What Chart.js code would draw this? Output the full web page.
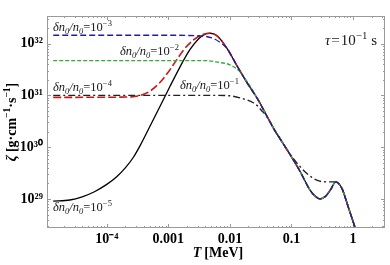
<!DOCTYPE html>
<html>
<head>
<meta charset="utf-8">
<script src="https://cdn.jsdelivr.net/npm/chart.js@4.4.1/dist/chart.umd.min.js"></script>
<style>
  html, body { margin: 0; padding: 0; background: #fff; }
  #wrap { width: 390px; height: 265px; }
</style>
</head>
<body>
<div id="wrap"><canvas id="chart" width="390" height="265"></canvas></div>
<script>
// T [MeV] and zeta [g cm^-1 s^-1] (tau = 0.1 s)
// shared high-temperature part of the curves
const tailT = [6.17e-3, 8.91e-3, 0.0129, 0.0186, 0.0288, 0.0398, 0.0537, 0.0646, 0.0955, 0.138, 0.200, 0.240, 0.288, 0.355, 0.427, 0.525, 0.661, 0.832, 1.07];
const tailZ = [1.41e32, 8.13e31, 3.80e31, 1.82e31, 8.13e30, 3.98e30, 2.09e30, 1.48e30, 7.08e29, 3.39e29, 1.48e29, 1.15e29, 1.0e29, 1.12e29, 1.48e29, 2.14e29, 1.58e29, 7.08e28, 2.88e28];

// dn0/n0 = 1e-5 (solid)
const solidT = [1.35e-5, 2.51e-5, 3.98e-5, 6.31e-5, 1e-4, 1.45e-4, 2.0e-4, 2.69e-4, 3.55e-4, 5.01e-4, 7.41e-4, 1.07e-3, 1.55e-3, 2.24e-3, 3.31e-3, 4.17e-3, 4.79e-3];
const solidZ = [9.12e28, 9.55e28, 1.10e29, 1.38e29, 1.91e29, 2.69e29, 3.98e29, 6.31e29, 1.12e30, 2.51e30, 6.31e30, 1.51e31, 3.55e31, 7.59e31, 1.32e32, 1.55e32, 1.58e32];

// dn0/n0 = 1e-4 (red)
const redT = [1.35e-5, 1e-4, 2.51e-4, 3.55e-4, 5.01e-4, 7.08e-4, 1e-3, 1.32e-3, 1.78e-3, 2.51e-3, 3.55e-3, 4.79e-3];
const redZ = [9.12e30, 9.2e30, 9.33e30, 1.0e31, 1.20e31, 1.70e31, 2.82e31, 4.57e31, 7.59e31, 1.15e32, 1.48e32, 1.58e32];

// dn0/n0 = 1e-3 (blue)
const blueT = [1.35e-5, 1e-3, 3.16e-3, 3.98e-3, 5.37e-3, 6.92e-3];
const blueZ = [1.445e32, 1.445e32, 1.41e32, 1.38e32, 1.26e32, 1.05e32];

// dn0/n0 = 1e-2 (green)
const greenT = [1.35e-5, 3.98e-3, 6.31e-3, 0.01, 0.0126, 0.0148, 0.0174, 0.0209];
const greenZ = [4.68e31, 4.68e31, 4.37e31, 3.89e31, 3.31e31, 2.82e31, 2.14e31, 1.55e31];

// dn0/n0 = 1e-1 (dash-dot)
const dotT = [1.35e-5, 1e-3, 5.0e-3, 0.01, 0.0158, 0.024, 0.0282, 0.0331, 0.038, 0.0537, 0.0646, 0.087, 0.123, 0.178, 0.257, 0.372, 0.525, 0.661, 0.832, 1.07];
const dotZ = [1.0e31, 1.0e31, 1.0e31, 9.8e30, 8.7e30, 7.2e30, 6.2e30, 5.0e30, 4.2e30, 2.09e30, 1.48e30, 8.5e29, 4.9e29, 3.1e29, 2.3e29, 2.14e29, 2.14e29, 1.58e29, 7.08e28, 2.88e28];

const xTicks = [1e-4, 1e-3, 1e-2, 1e-1, 1];
const xTickLabels = ['10\u207B\u2074', '0.001', '0.01', '0.1', '1'];
const yTicks = [1e29, 1e30, 1e31, 1e32];
const yTickLabels = ['10\u00B2\u2079', '10\u00B3\u2070', '10\u00B3\u00B9', '10\u00B3\u00B2'];

function pts(t, z) {
    return t.map((v, i) => ({ x: v, y: z[i] }));
}
function withTail(t, z, from) {
    return pts(t.concat(tailT.filter(v => v >= from)), z.concat(tailZ.filter((v, i) => tailT[i] >= from)));
}

const SERIF = '"Liberation Serif", "Times New Roman", serif';

// text drawn in runs so sub/superscripts and italics come out right
function drawRich(ctx, x, y, runs, size, weight) {
    let cx = x;
    runs.forEach(r => {
        const small = r.sub || r.sup;
        const s = small ? size * (r.scale || 0.68) : size;
        ctx.font = (r.it ? 'italic ' : '') + (weight || 'normal') + ' ' + s + 'px ' + SERIF;
        const dy = r.sup ? -size * 0.42 : (r.sub ? size * 0.22 : 0);
        ctx.fillText(r.t, cx, y + dy);
        cx += ctx.measureText(r.t).width + (r.gap || 0);
    });
    return cx - x;
}
function measureRich(ctx, runs, size, weight) {
    let w = 0;
    runs.forEach(r => {
        const s = (r.sub || r.sup) ? size * (r.scale || 0.68) : size;
        ctx.font = (r.it ? 'italic ' : '') + (weight || 'normal') + ' ' + s + 'px ' + SERIF;
        w += ctx.measureText(r.t).width + (r.gap || 0);
    });
    return w;
}
function ratio(exp) {
    return [{ t: '\u03B4n', it: true }, { t: '0', it: true, sub: true }, { t: '/n', it: true }, { t: '0', it: true, sub: true },
            { t: '=10' }, { t: '\u2212' + exp, sup: true }];
}

const notes = [
    { x: 53, y: 31, size: 12.5, runs: ratio(3) },
    { x: 120, y: 55, size: 12.5, runs: ratio(2) },
    { x: 53, y: 91, size: 12.5, runs: ratio(4) },
    { x: 180, y: 89, size: 12.5, runs: ratio(1) },
    { x: 53, y: 211, size: 12.5, runs: ratio(5) },
    { x: 325, y: 45, size: 15, runs: [{ t: '\u03C4', it: true, gap: 1 }, { t: '=', gap: 1 }, { t: '10' }, { t: '\u22121', sup: true, scale: 0.72, gap: 4 }, { t: 's' }] }
];

const framePlugin = {
    id: 'frame',
    beforeDatasetsDraw(chart) {
        const { ctx, chartArea: a, scales: { x, y } } = chart;
        ctx.save();
        ctx.strokeStyle = '#9a9a9a';
        ctx.lineWidth = 1;
        ctx.strokeRect(a.left + 0.5, a.top + 0.5, a.right - a.left - 1, a.bottom - a.top - 1);
        ctx.beginPath();
        for (let d = -6; d <= 1; d++) {
            for (let k = 1; k <= 9; k++) {
                const v = k * Math.pow(10, d);
                if (v >= x.min && v <= x.max) {
                    const px = Math.round(x.getPixelForValue(v)) + 0.5;
                    const len = k === 1 ? 4 : 2;
                    ctx.moveTo(px, a.bottom); ctx.lineTo(px, a.bottom - len);
                    ctx.moveTo(px, a.top); ctx.lineTo(px, a.top + len);
                }
            }
        }
        for (let d = 28; d <= 33; d++) {
            for (let k = 1; k <= 9; k++) {
                const v = k * Math.pow(10, d);
                if (v >= y.min && v <= y.max) {
                    const py = Math.round(y.getPixelForValue(v)) + 0.5;
                    const len = k === 1 ? 4 : 2;
                    ctx.moveTo(a.left, py); ctx.lineTo(a.left + len, py);
                    ctx.moveTo(a.right, py); ctx.lineTo(a.right - len, py);
                }
            }
        }
        ctx.stroke();
        ctx.restore();
    },
    afterDraw(chart) {
        const { ctx, chartArea: a } = chart;
        ctx.save();
        ctx.fillStyle = '#1a1a1a';
        ctx.textBaseline = 'alphabetic';
        ctx.textAlign = 'left';
        notes.forEach(n => drawRich(ctx, n.x, n.y, n.runs, n.size));

        // axis titles
        ctx.fillStyle = '#000';
        const xt = [{ t: 'T', it: true, gap: 3 }, { t: '[MeV]' }];
        const xw = measureRich(ctx, xt, 14, 'bold');
        drawRich(ctx, (a.left + a.right) / 2 + 2 - xw / 2, 257, xt, 14, 'bold');

        const yt = [{ t: '\u03B6', it: true, gap: 3 }, { t: '[g\u00B7cm' }, { t: '\u22121', sup: true }, { t: '\u00B7s' }, { t: '\u22121', sup: true }, { t: ']' }];
        const yw = measureRich(ctx, yt, 14, 'bold');
        ctx.translate(16, (a.top + a.bottom) / 2);
        ctx.rotate(-Math.PI / 2);
        drawRich(ctx, -yw / 2, 0, yt, 14, 'bold');
        ctx.restore();
    }
};

const common = { pointRadius: 0, fill: false, cubicInterpolationMode: 'monotone', showLine: true };

new Chart(document.getElementById('chart'), {
    type: 'scatter',
    data: {
        datasets: [
            Object.assign({ label: '1e-3', data: withTail(blueT, blueZ, 8e-3), borderColor: '#1f1f9a', borderWidth: 1.4, borderDash: [6, 3] }, common),
            Object.assign({ label: '1e-2', data: withTail(greenT, greenZ, 0.025), borderColor: '#2fae2f', borderWidth: 1.4, borderDash: [4, 2] }, common),
            Object.assign({ label: '1e-4', data: withTail(redT, redZ, 6e-3), borderColor: '#c41a1a', borderWidth: 1.6, borderDash: [8, 3] }, common),
            Object.assign({ label: '1e-1', data: pts(dotT, dotZ), borderColor: '#222222', borderWidth: 1.4, borderDash: [7, 3, 2, 3] }, common),
            Object.assign({ label: '1e-5', data: withTail(solidT, solidZ, 6e-3), borderColor: '#000000', borderWidth: 1.3 }, common)
        ]
    },
    options: {
        responsive: false,
        animation: false,
        devicePixelRatio: 1,
        layout: { padding: { left: 0, right: 5, top: 16, bottom: 0 } },
        plugins: { legend: { display: false }, tooltip: { enabled: false } },
        scales: {
            x: {
                type: 'logarithmic',
                min: 1.07e-5,
                max: 3.3,
                grid: { display: false, drawTicks: false },
                border: { display: false },
                afterBuildTicks: s => { s.ticks = xTicks.map(v => ({ value: v })); },
                afterFit: s => { s.height = 37; },
                ticks: {
                    autoSkip: false,
                    maxRotation: 0,
                    padding: 3,
                    color: '#000',
                    font: { family: SERIF, size: 14, weight: 'bold' },
                    callback: v => xTickLabels[xTicks.indexOf(v)]
                }
            },
            y: {
                type: 'logarithmic',
                min: 2.75e28,
                max: 3.4e32,
                grid: { display: false, drawTicks: false },
                border: { display: false },
                afterBuildTicks: s => { s.ticks = yTicks.map(v => ({ value: v })); },
                afterFit: s => { s.width = 47; },
                ticks: {
                    autoSkip: false,
                    padding: 4,
                    color: '#000',
                    font: { family: SERIF, size: 14, weight: 'bold' },
                    callback: v => yTickLabels[yTicks.indexOf(v)]
                }
            }
        }
    },
    plugins: [framePlugin]
});
</script>
</body>
</html>
